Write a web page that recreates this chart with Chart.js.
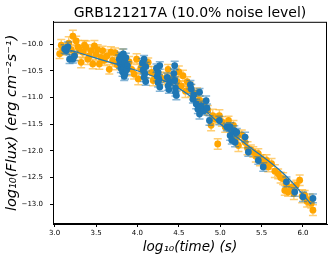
<!DOCTYPE html>
<html>
<head>
<meta charset="utf-8">
<script src="https://cdn.jsdelivr.net/npm/chart.js@4"></script>
<style>
  html, body { margin: 0; padding: 0; background: #fff; }
</style>
</head>
<body>
<canvas id="grbChart" width="332" height="260"></canvas>
<script>
// [log10(time), log10(flux), error]
const orangePts = [
  [3.06,-10.18,0.09],[3.08,-10.02,0.11],[3.10,-10.12,0.08],[3.14,-10.08,0.10],[3.17,-9.98,0.12],
  [3.20,-10.10,0.09],[3.22,-9.85,0.11],[3.24,-10.20,0.10],[3.26,-9.94,0.09],[3.28,-10.05,0.12],
  [3.30,-10.10,0.08],[3.32,-10.34,0.10],[3.34,-10.15,0.11],[3.36,-10.02,0.09],[3.38,-10.06,0.12],
  [3.40,-10.28,0.10],[3.42,-10.22,0.08],[3.44,-10.12,0.11],[3.46,-10.37,0.09],[3.48,-10.03,0.10],
  [3.50,-10.19,0.12],[3.52,-10.10,0.09],[3.54,-10.37,0.10],[3.56,-10.25,0.11],[3.58,-10.12,0.08],
  [3.60,-10.30,0.10],[3.63,-10.22,0.12],[3.66,-10.47,0.09],[3.68,-10.15,0.10],[3.70,-10.31,0.11],
  [3.73,-10.16,0.09],[3.75,-10.38,0.10],[3.78,-10.25,0.08],[3.82,-10.20,0.11],[3.86,-10.42,0.09],
  [3.90,-10.33,0.10],[3.93,-10.47,0.12],[3.96,-10.56,0.09],[3.99,-10.28,0.10],[4.01,-10.65,0.11],
  [4.04,-10.45,0.09],[4.08,-10.52,0.10],[4.13,-10.34,0.08],[4.17,-10.53,0.11],[4.19,-10.68,0.10],
  [4.22,-10.58,0.09],[4.28,-10.62,0.10],[4.33,-10.65,0.11],[4.37,-10.47,0.09],[4.40,-10.72,0.10],
  [4.43,-10.62,0.08],[4.48,-10.70,0.10],[4.50,-10.52,0.11],[4.53,-10.78,0.09],[4.55,-10.59,0.10],
  [4.58,-10.88,0.12],[4.60,-10.70,0.09],[4.63,-10.81,0.10],[4.65,-10.87,0.11],[4.68,-10.95,0.09],
  [4.72,-10.92,0.10],[4.75,-11.05,0.08],[4.79,-11.12,0.10],[4.82,-11.18,0.11],[4.85,-11.24,0.09],
  [4.89,-11.52,0.10],[4.91,-11.34,0.12],[4.94,-11.40,0.09],[4.97,-11.87,0.10],[4.99,-11.34,0.11],
  [5.02,-11.45,0.09],[5.06,-11.55,0.10],[5.10,-11.43,0.08],[5.14,-11.62,0.11],[5.16,-11.52,0.09],
  [5.20,-11.74,0.10],[5.22,-11.90,0.11],[5.26,-11.70,0.09],[5.30,-11.84,0.10],[5.33,-11.95,0.12],
  [5.37,-11.98,0.09],[5.40,-12.02,0.10],[5.43,-12.10,0.11],[5.46,-12.05,0.09],[5.48,-12.18,0.10],
  [5.50,-12.15,0.08],[5.53,-12.22,0.10],[5.56,-12.18,0.11],[5.58,-12.30,0.09],[5.62,-12.24,0.10],
  [5.66,-12.38,0.12],[5.70,-12.43,0.09],[5.73,-12.50,0.10],[5.76,-12.52,0.11],[5.78,-12.74,0.09],
  [5.80,-12.62,0.10],[5.82,-12.77,0.08],[5.86,-12.68,0.10],[5.89,-12.80,0.11],[5.92,-12.64,0.09],
  [5.96,-12.55,0.10],[5.99,-12.85,0.12],[6.02,-12.83,0.09],[6.05,-12.95,0.10],[6.08,-12.92,0.11],
  [6.10,-12.98,0.09],[6.12,-13.11,0.10]
];

const bluePts = [
  [3.12,-10.09,0.08],[3.14,-10.12,0.07],[3.16,-10.05,0.09],[3.18,-10.28,0.08],[3.22,-10.28,0.07],
  [3.24,-10.22,0.09],
  [3.78,-10.28,0.08],[3.79,-10.36,0.09],[3.80,-10.22,0.07],[3.80,-10.45,0.08],[3.81,-10.30,0.09],
  [3.82,-10.52,0.08],[3.82,-10.38,0.07],[3.83,-10.18,0.09],[3.84,-10.42,0.08],[3.85,-10.33,0.07],
  [3.85,-10.56,0.09],[3.86,-10.25,0.08],[3.87,-10.48,0.09],[3.88,-10.40,0.07],[3.84,-10.60,0.08],
  [4.06,-10.35,0.08],[4.07,-10.48,0.09],[4.08,-10.28,0.07],[4.08,-10.62,0.08],[4.09,-10.55,0.09],
  [4.10,-10.42,0.08],[4.10,-10.70,0.07],
  [4.23,-10.45,0.08],[4.24,-10.60,0.09],[4.25,-10.53,0.07],[4.25,-10.72,0.08],[4.26,-10.66,0.09],
  [4.27,-10.80,0.08],[4.27,-10.40,0.07],
  [4.36,-10.62,0.08],[4.37,-10.78,0.09],[4.38,-10.85,0.07],[4.39,-10.70,0.08],[4.44,-10.55,0.09],
  [4.45,-10.40,0.08],[4.45,-10.68,0.07],[4.46,-10.82,0.09],[4.47,-10.96,0.08],[4.46,-10.90,0.07],
  [4.64,-10.76,0.08],[4.65,-10.84,0.09],[4.67,-11.03,0.07],[4.68,-10.95,0.08],[4.71,-11.12,0.09],
  [4.73,-11.22,0.08],[4.75,-10.90,0.07],[4.75,-11.31,0.09],[4.77,-11.15,0.08],[4.80,-11.25,0.07],
  [4.83,-11.06,0.09],[4.84,-11.20,0.08],[4.87,-11.43,0.09],[4.99,-11.43,0.08],
  [5.08,-11.55,0.07],[5.12,-11.71,0.09],[5.12,-11.55,0.08],[5.14,-11.80,0.07],[5.17,-11.62,0.09],
  [5.18,-11.84,0.08],[5.20,-11.65,0.07],[5.30,-11.74,0.09],[5.34,-12.02,0.08],[5.46,-12.18,0.07],
  [5.52,-12.30,0.08],[5.80,-12.58,0.09],[5.90,-12.77,0.08],[6.00,-12.86,0.09],[6.12,-12.89,0.08]
];

// fitted model curve
const fitTime = [3.14, 3.50, 3.94, 4.30, 4.60, 4.95, 5.30, 5.76, 6.10];
const fitFlux = [-10.09, -10.26, -10.47, -10.67, -10.93, -11.43, -11.86, -12.42, -13.00];

const xTicks = [3.0, 3.5, 4.0, 4.5, 5.0, 5.5, 6.0];
const yTicks = [-10.0, -10.5, -11.0, -11.5, -12.0, -12.5, -13.0];

const BLUE = '#1f77b4';
const ORANGE = '#ffa500';

// vertical error bars with caps, drawn just before each dataset's markers
const errorBars = {
  id: 'errorBars',
  beforeDatasetDraw(chart, args) {
    const ds = chart.data.datasets[args.index];
    if (!ds.errors) return;
    const ctx = chart.ctx;
    const xs = chart.scales.x, ys = chart.scales.y;
    ctx.save();
    ctx.strokeStyle = ds.errColor;
    ctx.lineWidth = 1.5;
    ds.data.forEach((p, i) => {
      const px = xs.getPixelForValue(p.x);
      const top = ys.getPixelForValue(p.y + ds.errors[i]);
      const bot = ys.getPixelForValue(p.y - ds.errors[i]);
      ctx.beginPath();
      ctx.moveTo(px, top); ctx.lineTo(px, bot);
      ctx.moveTo(px - 4, top); ctx.lineTo(px + 4, top);
      ctx.moveTo(px - 4, bot); ctx.lineTo(px + 4, bot);
      ctx.stroke();
    });
    ctx.restore();
  }
};

const frame = {
  id: 'frame',
  afterDraw(chart) {
    const a = chart.chartArea, ctx = chart.ctx;
    ctx.save();
    ctx.strokeStyle = '#000';
    ctx.lineWidth = 1;
    ctx.strokeRect(a.left + 0.5, a.top + 0.5, a.right - a.left - 1, a.bottom - a.top - 1);
    ctx.restore();
  }
};

const fmt = v => v.toFixed(1).replace('-', '\u2212');

new Chart(document.getElementById('grbChart').getContext('2d'), {
  type: 'scatter',
  data: {
    datasets: [
      {
        label: 'fit',
        type: 'line',
        data: fitTime.map((t, i) => ({ x: t, y: fitFlux[i] })),
        borderColor: BLUE,
        borderWidth: 1.2,
        pointRadius: 0,
        tension: 0.4,
        fill: false,
        order: 0
      },
      {
        label: 'blue',
        data: bluePts.map(p => ({ x: p[0], y: p[1] })),
        errors: bluePts.map(p => p[2]),
        errColor: 'rgba(31,119,180,0.55)',
        backgroundColor: BLUE,
        borderColor: BLUE,
        pointRadius: 3.4,
        borderWidth: 0,
        order: 1
      },
      {
        label: 'orange',
        data: orangePts.map(p => ({ x: p[0], y: p[1] })),
        errors: orangePts.map(p => p[2]),
        errColor: 'rgba(255,165,0,0.55)',
        backgroundColor: ORANGE,
        borderColor: ORANGE,
        pointRadius: 3.4,
        borderWidth: 0,
        order: 2
      }
    ]
  },
  options: {
    responsive: false,
    animation: false,
    layout: { padding: { left: 0, right: 5, top: 0, bottom: 0 } },
    plugins: {
      legend: { display: false },
      tooltip: { enabled: false },
      title: {
        display: true,
        text: 'GRB121217A (10.0% noise level)',
        color: '#000',
        fullSize: false,
        font: { family: 'DejaVu Sans', size: 14, weight: 'normal' },
        padding: { top: 5, bottom: 0 }
      }
    },
    scales: {
      x: {
        type: 'linear',
        min: 2.98,
        max: 6.29,
        afterFit: s => { s.height = 36; },
        afterBuildTicks: s => { s.ticks = xTicks.map(v => ({ value: v })); },
        ticks: { callback: v => fmt(v), color: '#000', padding: 2, maxRotation: 0,
                 font: { family: 'DejaVu Sans', size: 7 } },
        grid: { drawOnChartArea: false, drawTicks: true, tickLength: 3, tickColor: '#000' },
        border: { display: true, color: '#000' },
        title: { display: true, text: 'log\u2081\u2080(time) (s)', color: '#000', padding: { top: 1, bottom: 4 },
                 font: { family: 'DejaVu Sans', size: 13.5, style: 'italic' } }
      },
      y: {
        type: 'linear',
        min: -13.37,
        max: -9.58,
        afterFit: s => { s.width = 53; },
        afterBuildTicks: s => { s.ticks = yTicks.map(v => ({ value: v })); },
        ticks: { callback: v => fmt(v), color: '#000', padding: 7,
                 font: { family: 'DejaVu Sans', size: 7 } },
        grid: { drawOnChartArea: false, drawTicks: true, tickLength: 3, tickColor: '#000' },
        border: { display: true, color: '#000' },
        title: { display: true, text: 'log\u2081\u2080(Flux) (erg cm\u207b\u00b2s\u207b\u00b9)', color: '#000',
                 padding: { top: 4, bottom: 0 },
                 font: { family: 'DejaVu Sans', size: 14.5, style: 'italic' } }
      }
    }
  },
  plugins: [errorBars, frame]
});
</script>
</body>
</html>
